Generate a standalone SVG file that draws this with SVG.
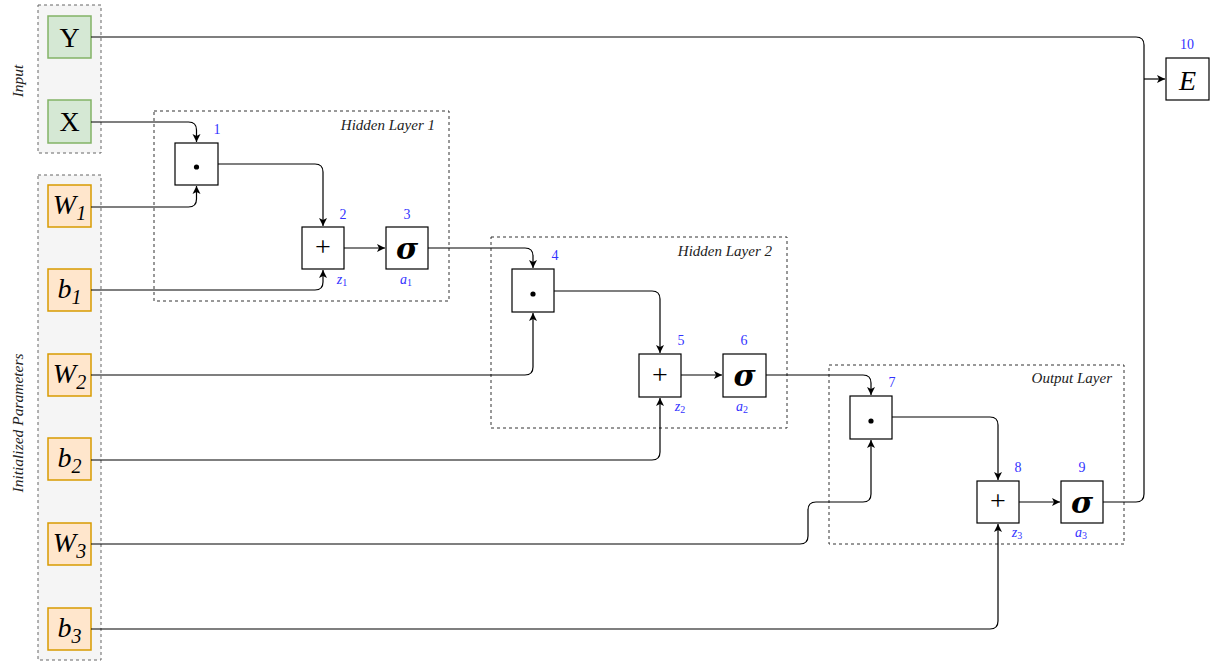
<svg xmlns="http://www.w3.org/2000/svg" width="1212" height="661" viewBox="0 0 1212 661">
<style>
.cont{fill:#f5f5f5;stroke:#666;stroke-width:1;stroke-dasharray:3 3}
.layer{fill:none;stroke:#333;stroke-width:1;stroke-dasharray:3 3}
.in{fill:#d5e8d4;stroke:#82b366;stroke-width:1.5}
.par{fill:#ffe6cc;stroke:#d79b00;stroke-width:1.5}
.op{fill:#fff;stroke:#000;stroke-width:1.2}
.big{font-family:"Liberation Serif",serif;font-size:28px;fill:#000;text-anchor:middle}
.it{font-style:italic}
.sig{font-family:"DejaVu Serif","Liberation Serif",serif;font-size:30px;font-style:italic;font-weight:bold;fill:#000;text-anchor:middle}
.num{font-family:"Liberation Serif",serif;font-size:14px;fill:#3333ff;text-anchor:middle}
.lab{font-family:"Liberation Serif",serif;font-size:15.5px;font-style:italic;fill:#222}
.grp{font-family:"Liberation Serif",serif;font-size:15px;font-style:italic;fill:#222;text-anchor:end}
.conn path{fill:none;stroke:#000;stroke-width:1.2}
</style>
<defs>
<marker id="ar" markerWidth="10" markerHeight="10" refX="9" refY="5" orient="auto" markerUnits="userSpaceOnUse">
<path d="M1,1 L9,5 L1,9 L3,5 Z" fill="#000"/>
</marker>
</defs>

<g id="input-group">
<rect class="cont" x="38" y="5" width="63" height="148"/>
<text class="lab" transform="translate(23,81) rotate(-90)" text-anchor="middle">Input</text>
</g>
<g id="params-group">
<rect class="cont" x="38" y="175" width="63" height="485"/>
<text class="lab" transform="translate(23,423) rotate(-90)" text-anchor="middle">Initialized Parameters</text>
</g>

<g id="hidden1"><rect class="layer" x="154" y="111" width="295" height="190"/><text class="grp" x="435" y="130">Hidden Layer 1</text></g>
<g id="hidden2"><rect class="layer" x="491" y="237" width="296" height="191"/><text class="grp" x="772" y="256">Hidden Layer 2</text></g>
<g id="outlayer"><rect class="layer" x="829" y="365" width="295" height="179"/><text class="grp" x="1112" y="383">Output Layer</text></g>

<g id="nY"><rect class="in" x="48" y="16" width="43" height="42"/><text class="big" x="69.5" y="47">Y</text></g>
<g id="nX"><rect class="in" x="48" y="100" width="43" height="43"/><text class="big" x="69.5" y="131">X</text></g>
<g id="nW1"><rect class="par" x="48" y="185" width="43" height="42"/><text class="big it" x="69.5" y="214">W<tspan font-size="20" dy="6">1</tspan></text></g>
<g id="nb1"><rect class="par" x="48" y="269" width="43" height="42"/><text class="big it" x="69.5" y="298">b<tspan font-size="20" dy="6">1</tspan></text></g>
<g id="nW2"><rect class="par" x="48" y="354" width="43" height="42"/><text class="big it" x="69.5" y="383">W<tspan font-size="20" dy="6">2</tspan></text></g>
<g id="nb2"><rect class="par" x="48" y="438" width="43" height="42"/><text class="big it" x="69.5" y="467">b<tspan font-size="20" dy="6">2</tspan></text></g>
<g id="nW3"><rect class="par" x="48" y="523" width="43" height="42"/><text class="big it" x="69.5" y="552">W<tspan font-size="20" dy="6">3</tspan></text></g>
<g id="nb3"><rect class="par" x="48" y="608" width="43" height="42"/><text class="big it" x="69.5" y="637">b<tspan font-size="20" dy="6">3</tspan></text></g>

<g id="n1"><rect class="op" x="175" y="143" width="43" height="42"/><circle cx="196.5" cy="167" r="2.6" fill="#000"/><text class="num" x="217" y="134">1</text></g>
<g id="n2"><rect class="op" x="302" y="227" width="42" height="42"/><text class="big" x="323" y="256" font-size="24">+</text><text class="num" x="343" y="219">2</text><text class="num it" x="342" y="284">z<tspan font-size="10" dy="2" font-style="normal">1</tspan></text></g>
<g id="n3"><rect class="op" x="386" y="227" width="42" height="42"/><text class="sig" x="407" y="259">σ</text><text class="num" x="407" y="219">3</text><text class="num it" x="406" y="284">a<tspan font-size="10" dy="2" font-style="normal">1</tspan></text></g>

<g id="n4"><rect class="op" x="512" y="269" width="42" height="43"/><circle cx="533" cy="294" r="2.6" fill="#000"/><text class="num" x="555" y="260">4</text></g>
<g id="n5"><rect class="op" x="639" y="354" width="42" height="43"/><text class="big" x="660" y="384" font-size="24">+</text><text class="num" x="681" y="345">5</text><text class="num it" x="680" y="411">z<tspan font-size="10" dy="2" font-style="normal">2</tspan></text></g>
<g id="n6"><rect class="op" x="723" y="354" width="43" height="43"/><text class="sig" x="744.5" y="386">σ</text><text class="num" x="744" y="345">6</text><text class="num it" x="742" y="411">a<tspan font-size="10" dy="2" font-style="normal">2</tspan></text></g>

<g id="n7"><rect class="op" x="850" y="396" width="42" height="43"/><circle cx="871" cy="421" r="2.6" fill="#000"/><text class="num" x="892" y="387">7</text></g>
<g id="n8"><rect class="op" x="977" y="481" width="42" height="42"/><text class="big" x="998" y="510" font-size="24">+</text><text class="num" x="1018" y="472">8</text><text class="num it" x="1017" y="537">z<tspan font-size="10" dy="2" font-style="normal">3</tspan></text></g>
<g id="n9"><rect class="op" x="1061" y="481" width="42" height="42"/><text class="sig" x="1082" y="513">σ</text><text class="num" x="1082" y="472">9</text><text class="num it" x="1081" y="537">a<tspan font-size="10" dy="2" font-style="normal">3</tspan></text></g>

<g id="nE"><rect class="op" x="1166" y="58" width="43" height="42"/><text class="big it" x="1187.5" y="90" font-size="32">E</text><text class="num" x="1187" y="49">10</text></g>

<g id="connectors" class="conn">
<path d="M91,37 H1136 Q1144,37 1144,45 V494 Q1144,502 1136,502 H1103"/>
<path d="M1144,79 H1165" marker-end="url(#ar)"/>
<path d="M91,122 H188.5 Q196.5,122 196.5,130 V142" marker-end="url(#ar)"/>
<path d="M91,207 H188.5 Q196.5,207 196.5,199 V186" marker-end="url(#ar)"/>
<path d="M218,164 H315 Q323,164 323,172 V226" marker-end="url(#ar)"/>
<path d="M91,290 H315 Q323,290 323,282 V270" marker-end="url(#ar)"/>
<path d="M344,248 H385" marker-end="url(#ar)"/>
<path d="M428,248 H525 Q533,248 533,256 V268" marker-end="url(#ar)"/>
<path d="M91,375 H525 Q533,375 533,367 V313" marker-end="url(#ar)"/>
<path d="M554,291 H652 Q660,291 660,299 V353" marker-end="url(#ar)"/>
<path d="M91,460 H652 Q660,460 660,452 V398" marker-end="url(#ar)"/>
<path d="M681,375 H722" marker-end="url(#ar)"/>
<path d="M766,375 H863 Q871,375 871,383 V395" marker-end="url(#ar)"/>
<path d="M91,544 H800 Q808,544 808,536 V510 Q808,502 816,502 H863 Q871,502 871,494 V440" marker-end="url(#ar)"/>
<path d="M892,417 H990 Q998,417 998,425 V480" marker-end="url(#ar)"/>
<path d="M91,629 H990 Q998,629 998,621 V524" marker-end="url(#ar)"/>
<path d="M1019,502 H1060" marker-end="url(#ar)"/>
</g>
</svg>
